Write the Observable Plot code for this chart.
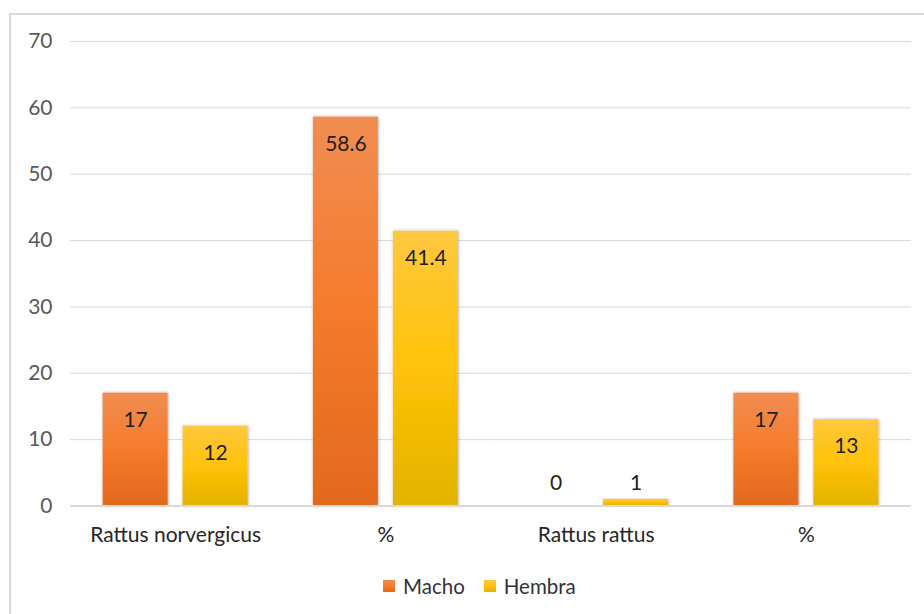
<!DOCTYPE html>
<html>
<head>
<meta charset="utf-8">
<script src="https://cdn.jsdelivr.net/npm/d3@7"></script>
<script src="https://cdn.jsdelivr.net/npm/@observablehq/plot@0.6"></script>
<style>
  body { margin: 0; background: #fff; width: 924px; height: 614px; overflow: hidden; position: relative; font-family: Lato, sans-serif; }
  #frame { position: absolute; left: 9px; top: 13px; width: 960px; height: 660px; border: 2px solid #d9d9d9; box-sizing: border-box; }
  #chart { position: absolute; left: 0; top: 0; }
  .legend { position: absolute; left: 383px; top: 574px; display: flex; align-items: center; height: 24px; font-size: 20.5px; color: #333; }
  .legend .item { display: flex; align-items: center; margin-right: 19px; }
  .legend .sw { width: 12px; height: 12px; margin-right: 8px; }
</style>
</head>
<body>
<div id="frame"></div>
<div id="chart"></div>
<script>
// Category labels (two groups share the "%" label, so they are keyed by index)
const groups = ["Rattus norvergicus", "%", "Rattus rattus", "%"];
const series = ["Macho", "Hembra"];
const macho = [17, 58.6, 0, 17];
const hembra = [12, 41.4, 1, 13];
const yTicks = [0, 10, 20, 30, 40, 50, 60, 70];

const gradients = {
  Macho: ["#F18D52", "#F47B2B", "#E2691E"],
  Hembra: ["#FFC83F", "#FFC208", "#E3B300"]
};

const data = groups.flatMap((g, i) => [
  {group: i, series: "Macho", value: macho[i]},
  {group: i, series: "Hembra", value: hembra[i]}
]);

const fontSize = 21;

const chart = Plot.plot({
  width: 924,
  height: 560,
  marginLeft: 70,
  marginRight: 13,
  marginTop: 41,
  marginBottom: 54.5,
  style: {fontFamily: "Lato, sans-serif", background: "transparent"},
  fx: {domain: groups.map((g, i) => i), padding: 0, round: false},
  x: {domain: series, paddingInner: 0.1875, paddingOuter: 0.408, round: false, axis: null},
  y: {domain: [0, 70]},
  marks: [
    Plot.gridY(yTicks, {stroke: "#d9d9d9", strokeOpacity: 1, strokeWidth: 1}),
    Plot.axisY(yTicks, {tickSize: 0, tickPadding: 18, fontSize, fill: "#595959", label: null}),
    Plot.axisFx({anchor: "bottom", tickSize: 0, tickPadding: 21, fontSize, fill: "#262626", label: null, tickFormat: i => groups[i]}),
    ...series.map(s => Plot.barY(data.filter(d => d.series === s), {
      fx: "group", x: "series", y: "value", fill: `url(#grad-${s})`
    })),
    Plot.ruleY([0], {stroke: "#d9d9d9", strokeWidth: 2}),
    // labels inside the bar end
    Plot.text(data, {
      filter: d => d.value >= 7.5,
      fx: "group", x: "series", y: "value", text: d => String(d.value),
      dy: 27, lineAnchor: "middle", fontSize, fill: "#1f1f1f"
    }),
    // labels for bars too short to hold them sit just above the axis
    Plot.text(data, {
      filter: d => d.value < 7.5,
      fx: "group", x: "series", frameAnchor: "bottom", text: d => String(d.value),
      dy: -23, lineAnchor: "middle", fontSize, fill: "#1f1f1f"
    })
  ]
});

// gradients and soft shadow for the bars
const svg = d3.select(chart);
const defs = svg.insert("defs", ":first-child");
for (const [name, stops] of Object.entries(gradients)) {
  const lg = defs.append("linearGradient").attr("id", `grad-${name}`)
    .attr("x1", 0).attr("y1", 0).attr("x2", 0).attr("y2", 1);
  stops.forEach((c, i) => lg.append("stop").attr("offset", i / (stops.length - 1)).attr("stop-color", c));
}
const f = defs.append("filter").attr("id", "barShadow")
  .attr("x", "-20%").attr("y", "-10%").attr("width", "140%").attr("height", "120%");
f.append("feDropShadow").attr("dx", 0.5).attr("dy", 0).attr("stdDeviation", 1.6)
  .attr("flood-color", "#000").attr("flood-opacity", 0.35);
svg.selectAll("g[aria-label='bar'] rect").attr("filter", "url(#barShadow)");

document.getElementById("chart").appendChild(chart);

// legend below the plot
const legend = d3.select("body").append("div").attr("class", "legend");
series.forEach(s => {
  const item = legend.append("div").attr("class", "item");
  item.append("div").attr("class", "sw")
    .style("background", `linear-gradient(${gradients[s][0]}, ${gradients[s][1]} 50%, ${gradients[s][2]})`);
  item.append("span").text(s);
});
</script>
</body>
</html>
